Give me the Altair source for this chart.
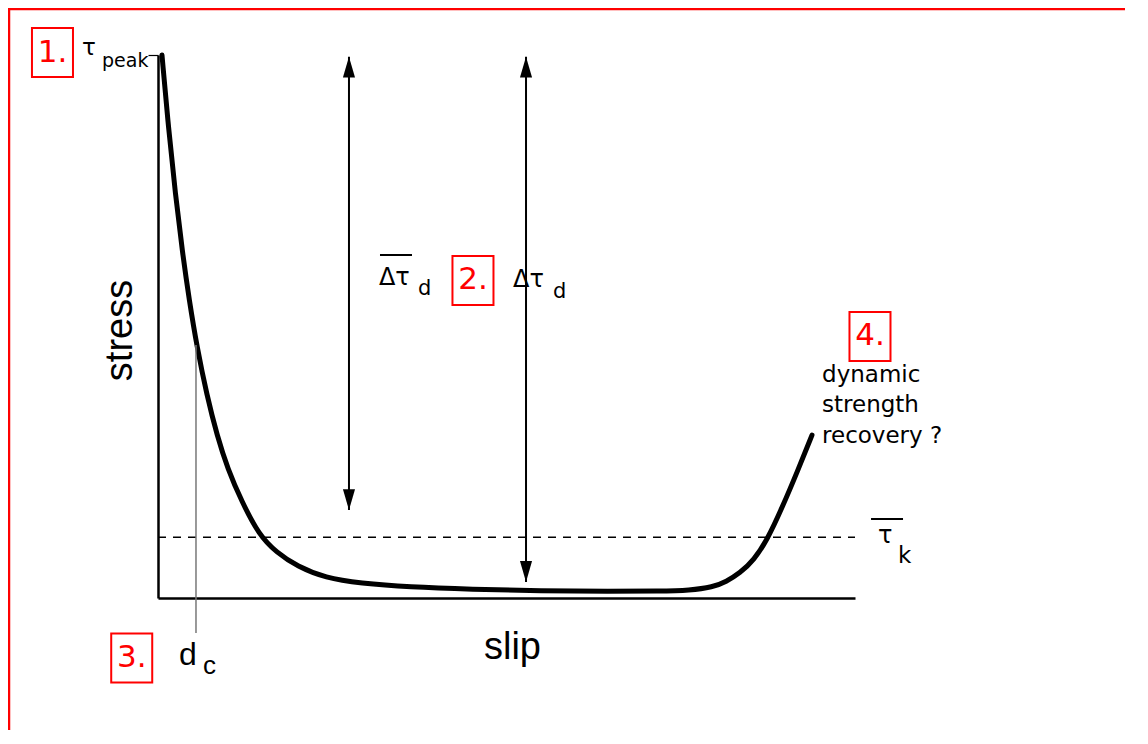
import altair as alt
import pandas as pd

# ---- data (normalised units: slip 0-100, stress 0-100) ----
curve_slip = [0.57, 1.5, 2.5, 3.5, 4.5, 5.6, 7.0, 8.5, 10.0, 12.0, 14.5, 17.0, 20.0, 24.0,
              29.0, 36.0, 45.0, 55.0, 65.0, 72.0, 76.3, 79.6, 81.5, 83.5, 85.5, 87.4,
              89.5, 91.8, 93.83]
curve_stress = [100.0, 86.6, 74.3, 63.7, 54.7, 46.2, 37.4, 29.8, 23.8, 17.8, 11.6, 8.4, 5.8,
                3.7, 2.7, 2.0, 1.6, 1.3, 1.2, 1.25, 1.4, 2.0, 3.0, 4.6, 7.0, 10.7,
                16.5, 23.5, 30.0]

kinetic_level = 11.2
dc_slip = 5.45
dc_stress = [46.6, -6.45]

arrow_slip = [27.4, 52.8]
arrow_top = [99.7, 99.7]
arrow_bottom = [16.2, 2.95]

box_labels = ["1.", "2.", "3.", "4."]
box_slip = [-15.14, 45.19, -3.77, 102.15]
box_stress = [100.46, 58.49, -11.05, 48.16]

sans_labels = ["τ", "peak", "Δτ", "d", "Δτ", "d", "τ", "k", "dynamic", "strength", "recovery ?"]
sans_slip = [-10.90, -8.03, 31.7, 37.30, 50.95, 56.67, 103.3, 106.17, 95.27, 95.27, 95.27]
sans_stress = [100.0, 97.88, 57.64, 55.80, 57.27, 55.25, 10.13, 6.45, 39.78, 34.25, 28.55]
sans_size = [23, 19, 24, 21, 24, 21, 24, 23, 23, 23, 23]

dc_labels = ["d", "c"]
dc_label_slip = [3.01, 6.46]
dc_label_stress = [-12.34, -14.0]
dc_label_size = [32, 26]

bar_slip = [31.85, 102.30]
bar_slip2 = [36.44, 106.89]
bar_stress = [63.17, 14.55]

# ---- tables ----
curve_df = pd.DataFrame({"slip": curve_slip, "stress": curve_stress})
kin_df = pd.DataFrame({"x1": [0.0], "x2": [100.0], "y": [kinetic_level]})
dc_df = pd.DataFrame({"x": [dc_slip], "y1": [dc_stress[0]], "y2": [dc_stress[1]]})
arrow_df = pd.DataFrame({"x": arrow_slip, "top": arrow_top, "bottom": arrow_bottom})
box_df = pd.DataFrame({"label": box_labels, "x": box_slip, "y": box_stress})
sans_df = pd.DataFrame({"label": sans_labels, "x": sans_slip, "y": sans_stress, "fs": sans_size})
dcl_df = pd.DataFrame({"label": dc_labels, "x": dc_label_slip, "y": dc_label_stress, "fs": dc_label_size})
bar_df = pd.DataFrame({"x1": bar_slip, "x2": bar_slip2, "y": bar_stress})

xs = alt.Scale(domain=[0, 100], nice=False, zero=False)
ys = alt.Scale(domain=[0, 100], nice=False, zero=False)

ax_x = alt.Axis(title="slip", ticks=False, labels=False, grid=False, domainColor="black",
                domainWidth=2.5, titleFont="Liberation Sans", titleFontSize=38,
                titleFontWeight="normal", titleColor="black", titleX=354,
                titleY=60, titleAlign="center", titleBaseline="alphabetic")
ax_y = alt.Axis(title="stress", values=[100], ticks=True, tickSize=10, tickWidth=1.2,
                tickColor="black", labels=False, grid=False, domainColor="black",
                domainWidth=2.5, titleFont="Liberation Sans", titleFontSize=38,
                titleFontWeight="normal", titleColor="black", titleX=-38,
                titleY=275, titleAngle=270, titleAlign="center",
                titleBaseline="middle")


def X(field):
    return alt.X(field, type="quantitative", scale=xs, axis=ax_x)


def Y(field):
    return alt.Y(field, type="quantitative", scale=ys, axis=ax_y)


curve = alt.Chart(curve_df).mark_line(
    color="black", strokeWidth=5, interpolate="basis", strokeCap="round"
).encode(x=X("slip"), y=Y("stress"))

kin = alt.Chart(kin_df).mark_rule(color="black", strokeWidth=1.5, strokeDash=[8, 7]).encode(
    x=X("x1"), x2="x2:Q", y=Y("y"),
)

dc_line = alt.Chart(dc_df).mark_rule(color="#777777", strokeWidth=1.5).encode(
    x=X("x"), y=Y("y1"), y2="y2:Q",
)

arrow_lines = alt.Chart(arrow_df).mark_rule(color="black", strokeWidth=2).encode(
    x=X("x"), y=Y("top"), y2="bottom:Q",
)

head_up = alt.Chart(arrow_df).mark_point(
    shape="M0,0L0.55,1.9L-0.55,1.9Z", size=484, filled=True, fill="black",
    strokeWidth=0, opacity=1
).encode(x=X("x"), y=Y("top"))

head_down = alt.Chart(arrow_df).mark_point(
    shape="M0,0L0.55,-1.9L-0.55,-1.9Z", size=484, filled=True, fill="black",
    strokeWidth=0, opacity=1
).encode(x=X("x"), y=Y("bottom"))

boxes = alt.Chart(box_df).mark_point(
    shape="M-0.837,-1L0.837,-1L0.837,1L-0.837,1Z", size=2401, filled=False,
    stroke="red", strokeWidth=2, opacity=1
).encode(x=X("x"), y=Y("y"))

box_text = alt.Chart(box_df).mark_text(
    font="DejaVu Sans", fontSize=31, color="red", align="center", baseline="middle"
).encode(x=X("x"), y=Y("y"), text="label:N")

sans_text = alt.Chart(sans_df).mark_text(
    font="DejaVu Sans", color="black", align="left", baseline="alphabetic"
).encode(x=X("x"), y=Y("y"), text="label:N",
         size=alt.Size("fs:Q", scale=None, legend=None))

dc_text = alt.Chart(dcl_df).mark_text(
    font="Liberation Sans", color="black", align="left", baseline="alphabetic"
).encode(x=X("x"), y=Y("y"), text="label:N",
         size=alt.Size("fs:Q", scale=None, legend=None))

bars = alt.Chart(bar_df).mark_rule(color="black", strokeWidth=2).encode(
    x=X("x1"), x2="x2:Q", y=Y("y"),
)

frame = alt.Chart(pd.DataFrame({"a": [0]})).mark_rect(
    fillOpacity=0, stroke="red", strokeWidth=2.5
).encode(x=alt.value(-149), x2=alt.value(1400), y=alt.value(-46), y2=alt.value(1200))

chart = alt.layer(
    curve, frame, kin, dc_line, arrow_lines, head_up, head_down,
    boxes, box_text, sans_text, dc_text, bars
).properties(
    width=697, height=543,
    autosize=alt.AutoSizeParams(type="none"),
    padding={"left": 150, "top": 47, "right": 270, "bottom": 132},
    background="white",
).configure_view(stroke=None)

chart.save("out.html", embed_options={"renderer": "svg", "actions": False})
